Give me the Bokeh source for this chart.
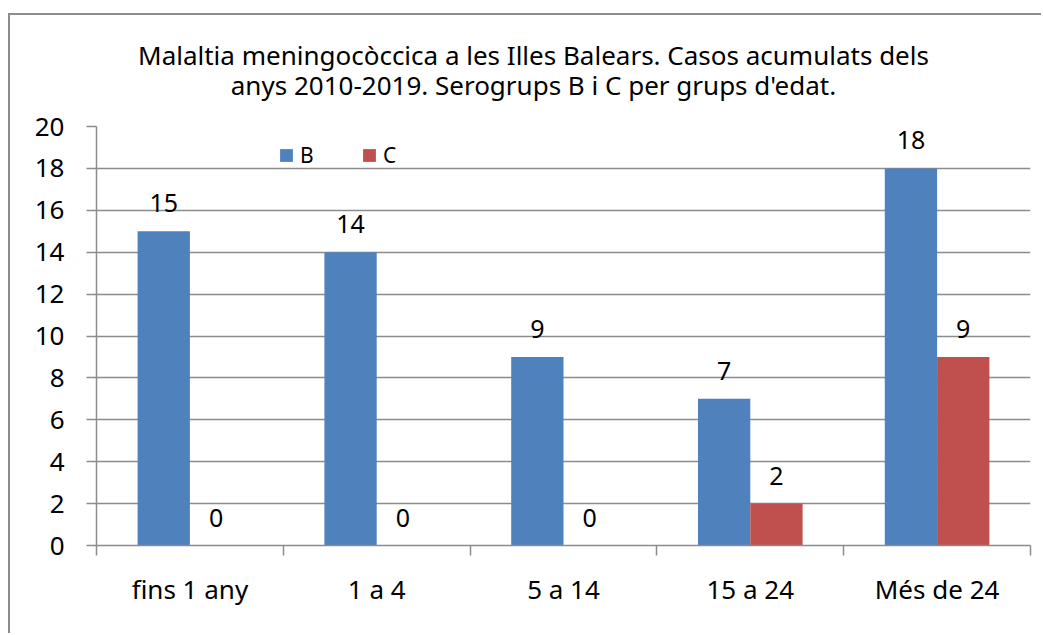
from bokeh.plotting import figure
from bokeh.models import (FactorRange, Range1d, LinearAxis, CategoricalAxis, FixedTicker, Label,
                          Legend, LegendItem, ColumnDataSource, LabelSet)
from bokeh.core.properties import value
from bokeh.transform import dodge
from bokeh.embed import file_html
from bokeh.resources import INLINE

categories = ["fins 1 any", "1 a 4", "5 a 14", "15 a 24", "Més de 24"]
serie_b = [15, 14, 9, 7, 18]
serie_c = [0, 0, 0, 2, 9]
y_ticks = [0, 2, 4, 6, 8, 10, 12, 14, 16, 18, 20]
title_lines = ["Malaltia meningocòccica a les Illes Balears. Casos acumulats dels",
               "anys 2010-2019. Serogrups B i C per grups d'edat."]

FONT = "Noto Sans"
GRID = "#8c8c8c"
BLUE = "#4f81bd"
RED = "#c0504d"

src = ColumnDataSource(dict(cat=categories, B=serie_b, C=serie_c,
                            lb=[str(v) for v in serie_b], lc=[str(v) for v in serie_c]))

p = figure(x_range=FactorRange(*categories), y_range=Range1d(0, 20), title=None,
           width=1033, height=620, output_backend="svg", toolbar_location=None,
           x_axis_location=None, min_border_left=86, min_border_right=13,
           min_border_top=111, min_border_bottom=90)
p.styles = {"margin-left": "8px", "margin-top": "13px",
            "border-left": f"2px solid {GRID}", "border-top": f"2px solid {GRID}"}
p.outline_line_color = None
p.xgrid.visible = False
p.ygrid.grid_line_color = GRID
p.ygrid.grid_line_width = 1.5
p.ygrid.ticker = FixedTicker(ticks=y_ticks)

ya = p.yaxis[0]
ya.ticker = FixedTicker(ticks=y_ticks)
ya.axis_line_color = GRID
ya.axis_line_width = 1.5
ya.major_tick_line_color = GRID
ya.major_tick_line_width = 1.5
ya.major_tick_in = 0
ya.major_tick_out = 10
ya.minor_tick_line_color = None
ya.major_label_text_font = FONT
ya.major_label_text_font_size = "26px"
ya.major_label_text_color = "black"
ya.major_label_standoff = 22

# tick-only axis at category boundaries (synthetic coordinates 0..5)
ta = LinearAxis(ticker=FixedTicker(ticks=list(range(len(categories) + 1))))
ta.axis_line_color = GRID
ta.axis_line_width = 1.5
ta.major_tick_line_color = GRID
ta.major_tick_line_width = 1.5
ta.major_tick_in = 0
ta.major_tick_out = 10
ta.minor_tick_line_color = None
ta.major_label_text_font_size = "1px"
ta.major_label_text_color = None
ta.major_label_standoff = 0
p.add_layout(ta, "below")

ca = CategoricalAxis()
ca.axis_line_color = None
ca.major_tick_line_color = None
ca.minor_tick_line_color = None
ca.major_label_text_font = FONT
ca.major_label_text_font_size = "26px"
ca.major_label_text_color = "black"
ca.major_label_standoff = 9
p.add_layout(ca, "below")

rb = p.vbar(x=dodge("cat", -0.14, range=p.x_range), top="B", width=0.28, source=src,
            fill_color=BLUE, line_color=None)
rc = p.vbar(x=dodge("cat", 0.14, range=p.x_range), top="C", width=0.28, source=src,
            fill_color=RED, line_color=None)

for col, txt, off in (("B", "lb", -0.14), ("C", "lc", 0.14)):
    p.add_layout(LabelSet(x=dodge("cat", off, range=p.x_range), y=col, text=txt, source=src,
                          text_align="center", text_baseline="middle", y_offset=28,
                          text_font=value(FONT), text_font_size="25px", text_color="black"))

legend = Legend(items=[LegendItem(label="B", renderers=[rb]), LegendItem(label="C", renderers=[rc])],
                orientation="horizontal", location=(182, 376), border_line_color=None,
                background_fill_alpha=0, glyph_width=16, glyph_height=16,
                label_text_font=FONT, label_text_font_size="21px", label_text_color="black",
                spacing=41, padding=0, margin=0, label_standoff=6, label_width=20, label_height=16)
p.add_layout(legend)

# two-line title, each line centred, placed in the panel above the frame
p.add_layout(Label(x=437, y=23, x_units="screen", y_units="screen",
                   text="\n".join(title_lines), text_align="center", text_baseline="bottom",
                   text_line_height=0.85, text_font=FONT, text_font_size="26px",
                   text_color="black"), "above")

open("out.html", "w").write(file_html(p, INLINE))
